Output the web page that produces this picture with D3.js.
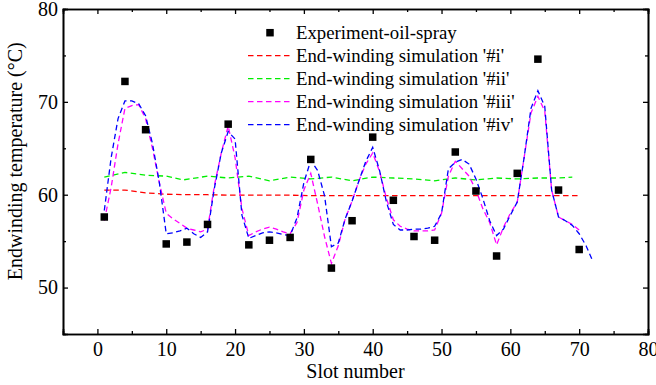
<!DOCTYPE html>
<html>
<head>
<meta charset="utf-8">
<script src="https://cdn.jsdelivr.net/npm/d3@7"></script>
<style>
  body { margin: 0; background: #fff; }
  text { font-family: "Liberation Serif", "Times New Roman", serif; }
</style>
</head>
<body>
<div id="chart"></div>
<script>
//Experimental points
const expSlots = [1, 4, 7, 10, 13, 16, 19, 22, 25, 28, 31, 34, 37, 40, 43, 46, 49, 52, 55, 58, 61, 64, 67, 70];
const expTemps = [57.6, 72.2, 67.0, 54.7, 54.9, 56.8, 67.6, 54.6, 55.1, 55.4, 63.8, 52.1, 57.2, 66.2, 59.4, 55.5, 55.1, 64.6, 60.4, 53.4, 62.3, 74.6, 60.5, 54.1];

//Simulation '#i'
const simISlots = [1, 4, 7, 10, 13, 16, 19, 22, 25, 28, 31, 34, 37, 40, 43, 46, 49, 52, 55, 58, 61, 64, 67, 70];
const simITemps = [60.5, 60.5, 60.2, 60.05, 60.0, 60.0, 59.95, 59.95, 59.95, 59.95, 59.9, 59.9, 59.9, 59.9, 59.9, 59.9, 59.9, 59.9, 59.9, 59.9, 59.9, 59.9, 59.9, 59.9];

//Simulation '#ii'
const simIISlots = [1, 4, 7, 10, 12.5, 16, 19, 22, 25, 28, 31, 34, 37, 40, 43, 46, 49, 52, 55, 58, 61, 64, 67, 69];
const simIITemps = [61.9, 62.4, 62.1, 62.0, 61.6, 62.0, 61.8, 62.0, 61.5, 61.9, 61.7, 61.9, 61.5, 61.9, 61.8, 61.7, 61.5, 61.8, 61.6, 61.8, 61.7, 61.8, 61.8, 61.9];

//Simulation '#iii'
const simIIISlots = [1, 2, 3, 4, 5, 6, 7, 8, 9, 10, 11, 12, 13, 14, 15, 16, 17, 18, 19, 20, 21, 22, 23, 24, 25, 26, 27, 28, 29, 30, 31, 32, 33, 34, 35,
    36, 37, 38, 39, 40, 41, 42, 43, 44, 45, 46, 47, 48, 49, 50, 51, 52, 53, 54, 55, 56, 57, 58, 59, 60, 61, 62, 63, 64, 65, 66, 67, 68, 69, 70];
const simIIITemps = [57.2, 60.8, 65.5, 69.3, 69.6, 69.7, 68.2, 65.0, 61.3, 58.0, 57.4, 56.9, 56.4, 56.2, 56.0, 56.3, 61.0, 64.5, 67.4, 64.0,
    58.5, 55.6, 56.0, 56.3, 56.5, 56.3, 56.0, 55.8, 57.0, 60.5, 62.3, 59.0, 55.5, 52.6, 54.5, 57.4, 59.3, 61.5, 63.3, 64.5,
    62.5, 59.6, 57.3, 56.6, 56.3, 56.1, 56.1, 56.1, 56.2, 58.0, 62.0, 63.6, 62.8, 62.0, 60.5, 58.5, 57.0, 54.6, 56.5, 58.0,
    59.2, 64.0, 68.8, 70.6, 69.0, 60.5, 57.6, 57.2, 56.8, 56.2];

//Simulation '#iv'
const simIVSlots = [1, 2, 3, 4, 5, 6, 7, 8, 9, 10, 11, 12, 13, 14, 15, 16, 17, 18, 19, 20, 21, 22, 23, 24, 25, 26, 27, 28, 29, 30, 31, 32, 33, 34, 35,
    36, 37, 38, 39, 40, 41, 42, 43, 44, 45, 46, 47, 48, 49, 50, 51, 52, 53, 54, 55, 56, 57, 58, 59, 60, 61, 62, 63, 64, 65, 66, 67, 68, 69, 70, 71, 72];
const simIVTemps = [58.3, 64.0, 68.2, 70.1, 70.1, 69.8, 68.5, 65.5, 61.3, 55.8, 55.9, 56.1, 56.4, 55.8, 55.4, 56.0, 60.7, 64.5, 66.8, 66.0,
    57.8, 55.3, 55.6, 55.9, 56.0, 55.9, 55.7, 55.6, 57.5, 61.3, 63.7, 62.6, 59.9, 54.4, 54.8, 57.4, 59.3, 61.5, 63.6, 65.1,
    62.6, 59.2, 56.8, 56.2, 56.2, 56.3, 56.3, 56.4, 56.6, 58.0, 62.8, 63.5, 63.8, 63.3, 61.7, 59.6, 57.2, 55.6, 56.3, 57.8,
    59.2, 64.0, 69.3, 71.2, 69.5, 60.5, 57.6, 57.2, 56.7, 55.8, 54.5, 52.8];

//Axis ticks
const xTicks = [0, 10, 20, 30, 40, 50, 60, 70, 80];
const xMinor = [5, 15, 25, 35, 45, 55, 65, 75];
const yTicks = [50, 60, 70, 80];
const yMinor = [55, 65, 75];

const series = [
    {name: "End-winding simulation '#i'", xs: simISlots, ys: simITemps, color: "#ff0000"},
    {name: "End-winding simulation '#ii'", xs: simIISlots, ys: simIITemps, color: "#00ee00"},
    {name: "End-winding simulation '#iii'", xs: simIIISlots, ys: simIIITemps, color: "#ff00ff"},
    {name: "End-winding simulation '#iv'", xs: simIVSlots, ys: simIVTemps, color: "#0000ff"}
];

//Set the dimensions and margins of the graph
const W = 656, H = 385;
const margin = {top: 9, right: 8, bottom: 51, left: 63},
    width = W - margin.left - margin.right,
    height = H - margin.top - margin.bottom;

const svg = d3.select("#chart")
    .append("svg")
    .attr("width", W)
    .attr("height", H)
    .append("g")
    .attr("transform", `translate(${margin.left}, ${margin.top})`);

const x = d3.scaleLinear().domain([-5, 80]).range([0, width]);
const y = d3.scaleLinear().domain([45, 80]).range([height, 0]);

//Bottom axis with labels
svg.append("g")
    .attr("transform", `translate(0, ${height})`)
    .call(d3.axisBottom(x).tickValues(xTicks).tickSize(-5).tickPadding(8).tickFormat(d3.format("d")));
svg.append("g")
    .attr("transform", `translate(0, ${height})`)
    .call(d3.axisBottom(x).tickValues(xMinor).tickSize(-3).tickFormat(""));

//Top mirror axis
svg.append("g")
    .call(d3.axisTop(x).tickValues(xTicks).tickSize(-5).tickFormat(""));
svg.append("g")
    .call(d3.axisTop(x).tickValues(xMinor).tickSize(-3).tickFormat(""));

//Left axis with labels
svg.append("g")
    .call(d3.axisLeft(y).tickValues(yTicks).tickSize(-5).tickPadding(5).tickFormat(d3.format("d")));
svg.append("g")
    .call(d3.axisLeft(y).tickValues(yMinor).tickSize(-3).tickFormat(""));

//Right mirror axis
svg.append("g")
    .attr("transform", `translate(${width}, 0)`)
    .call(d3.axisRight(y).tickValues(yTicks).tickSize(-5).tickFormat(""));
svg.append("g")
    .attr("transform", `translate(${width}, 0)`)
    .call(d3.axisRight(y).tickValues(yMinor).tickSize(-3).tickFormat(""));

svg.selectAll(".domain").attr("stroke", "#000").attr("stroke-width", 1.6);
svg.selectAll(".tick line").attr("stroke", "#000").attr("stroke-width", 1.3);
svg.selectAll(".tick text")
    .attr("font-family", "'Liberation Serif', 'Times New Roman', serif")
    .attr("font-size", "20px")
    .attr("fill", "#000");

//Axis titles
svg.append("text")
    .attr("x", x(37.5))
    .attr("y", height + 44)
    .attr("text-anchor", "middle")
    .attr("font-size", "20px")
    .text("Slot number");

svg.append("text")
    .attr("transform", `translate(${-margin.left + 22}, ${y(63.6)}) rotate(-90)`)
    .attr("text-anchor", "middle")
    .attr("font-size", "20px")
    .text("Endwinding temperature (°C)");

//Simulation lines
const line = d3.line()
    .x(d => x(d[0]))
    .y(d => y(d[1]));

series.forEach(s => {
    svg.append("path")
        .datum(s.xs.map((v, i) => [v, s.ys[i]]))
        .attr("fill", "none")
        .attr("stroke", s.color)
        .attr("stroke-width", 1.3)
        .attr("stroke-dasharray", "5.5,3.5")
        .attr("d", line);
});

//Experiment squares
const sq = 7.5;
svg.selectAll(".expPt")
    .data(expSlots.map((v, i) => [v, expTemps[i]]))
    .join("rect")
    .attr("class", "expPt")
    .attr("x", d => x(d[0]) - sq / 2)
    .attr("y", d => y(d[1]) - sq / 2)
    .attr("width", sq)
    .attr("height", sq)
    .attr("fill", "#000");

//Legend
const legend = svg.append("g")
    .attr("transform", `translate(${248 - margin.left}, ${32.7 - margin.top})`);
const rowH = 23;

legend.append("rect")
    .attr("x", 22 - sq / 2)
    .attr("y", -sq / 2)
    .attr("width", sq)
    .attr("height", sq)
    .attr("fill", "#000");
legend.append("text")
    .attr("x", 48)
    .attr("y", 6)
    .attr("font-size", "18.8px")
    .text("Experiment-oil-spray");

series.forEach((s, i) => {
    const ly = (i + 1) * rowH;
    legend.append("line")
        .attr("x1", 0)
        .attr("x2", 42)
        .attr("y1", ly)
        .attr("y2", ly)
        .attr("stroke", s.color)
        .attr("stroke-width", 1.3)
        .attr("stroke-dasharray", "5.5,3.5");
    legend.append("text")
        .attr("x", 48)
        .attr("y", ly + 6)
        .attr("font-size", "18.8px")
        .text(s.name);
});
</script>
</body>
</html>
